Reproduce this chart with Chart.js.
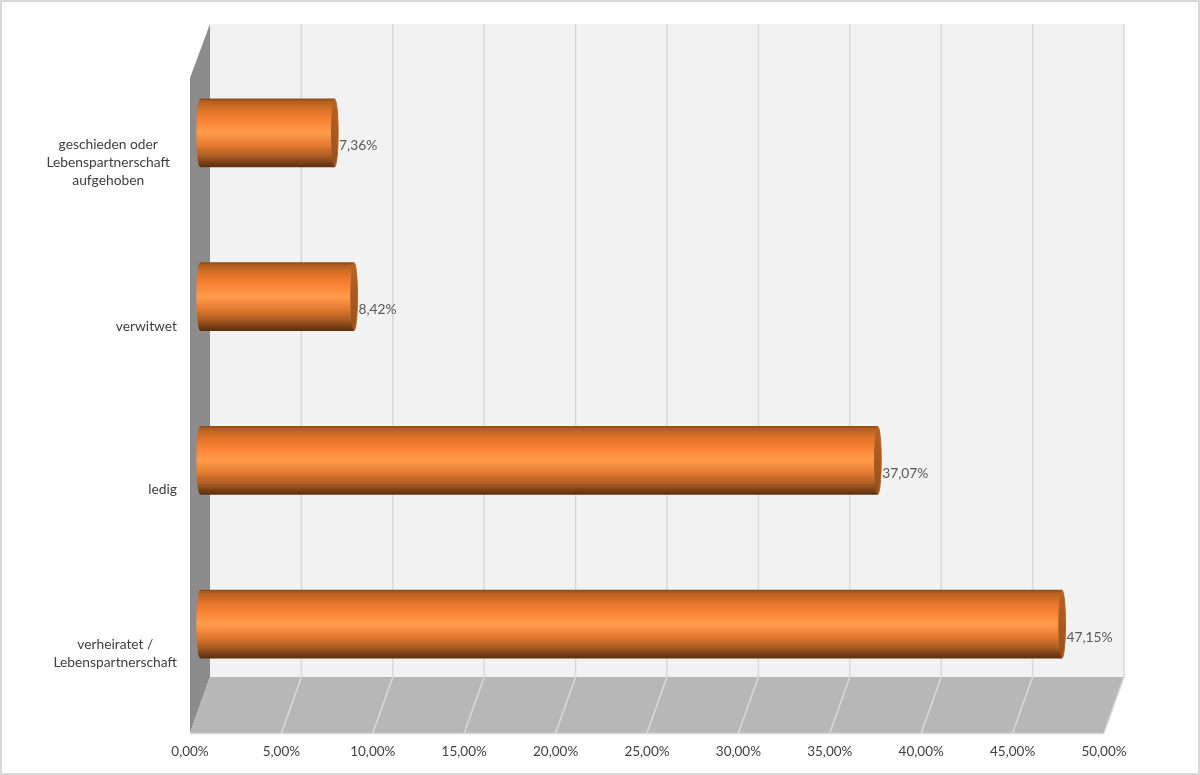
<!DOCTYPE html>
<html><head><meta charset="utf-8">
<style>html,body{margin:0;padding:0;background:#fff}canvas{display:block}</style>
<script src="https://cdn.jsdelivr.net/npm/chart.js@4/dist/chart.umd.min.js"></script>
</head><body>
<canvas id="c" width="1200" height="775"></canvas>
<script>
const categories = [
  ["verheiratet /", "Lebenspartnerschaft"],
  "ledig",
  "verwitwet",
  ["geschieden oder", "Lebenspartnerschaft", "aufgehoben"]
];
const shares = [47.15, 37.07, 8.42, 7.36];
const shareLabels = ["47,15%", "37,07%", "8,42%", "7,36%"];
const axisMin = 0;
const axisMax = 50;
const axisStep = 5;

const FONT = 'Lato, sans-serif';
const depthX = 20, depthTop = -54, depthBottom = -56;
const barDX = 10, barDY = -27;
const capRX = 3.6;
const labelRight = [177, 177, 177, 170];
const labelShiftY = 2.5;

function de(v){ return v.toFixed(2).replace('.', ',') + '%'; }

function bodyGradient(c, top, h){
  const g = c.createLinearGradient(0, top, 0, top + h);
  g.addColorStop(0, '#8f4c17');
  g.addColorStop(0.04, '#b4601f');
  g.addColorStop(0.18, '#e2742a');
  g.addColorStop(0.32, '#f98334');
  g.addColorStop(0.5, '#ff9b4b');
  g.addColorStop(0.68, '#e67a30');
  g.addColorStop(0.84, '#ab5d23');
  g.addColorStop(0.96, '#6e3a14');
  g.addColorStop(1, '#5e3010');
  return g;
}

const scene = {
  id: 'scene',
  beforeDraw(chart){
    const {ctx, scales:{x, y}, chartArea:a} = chart;
    const backTop = a.top + depthTop, backBottom = a.bottom + depthBottom;
    // outer frame
    ctx.save();
    ctx.fillStyle = '#fff'; ctx.fillRect(0,0,chart.width,chart.height);
    ctx.strokeStyle = '#d9d9d9'; ctx.lineWidth = 2;
    ctx.strokeRect(1,1,chart.width-2,chart.height-2);
    // back wall
    ctx.fillStyle = '#f2f2f2';
    ctx.fillRect(a.left+depthX, backTop, a.width, backBottom-backTop);
    // left wall
    ctx.fillStyle = '#8c8c8c';
    ctx.beginPath();
    ctx.moveTo(a.left, a.top); ctx.lineTo(a.left+depthX, backTop);
    ctx.lineTo(a.left+depthX, backBottom); ctx.lineTo(a.left, a.bottom);
    ctx.closePath(); ctx.fill();
    // floor
    ctx.fillStyle = '#b7b7b7';
    ctx.beginPath();
    ctx.moveTo(a.left, a.bottom); ctx.lineTo(a.left+depthX, backBottom);
    ctx.lineTo(a.right+depthX, backBottom); ctx.lineTo(a.right, a.bottom);
    ctx.closePath(); ctx.fill();
    // grid
    ctx.lineWidth = 1.5;
    ctx.strokeStyle = '#d9d9d9';
    x.ticks.forEach((t,i)=>{
      const px = x.getPixelForTick(i);
      if(i>0){
        ctx.beginPath();
        ctx.moveTo(px+depthX, backTop);
        ctx.lineTo(px+depthX, backBottom);
        ctx.lineTo(px, a.bottom);
        ctx.stroke();
      }
    });
    ctx.beginPath();
    ctx.moveTo(a.left, a.bottom+.5); ctx.lineTo(a.right, a.bottom+.5);
    ctx.stroke();
    ctx.restore();

    // y labels: each block right-aligned, lines centred inside the block
    const items = y.getLabelItems(a);
    ctx.save();
    items.forEach((it,i)=>{
      if(it.shifted) return;
      ctx.font = it.font.string;
      const lines = Array.isArray(it.label) ? it.label : [it.label];
      const w = Math.max(...lines.map(l=>ctx.measureText(l).width));
      it.options.textAlign = 'center';
      it.options.translation = [labelRight[i] - w/2, it.options.translation[1] + labelShiftY];
      it.shifted = true;
    });
    ctx.restore();
  },
  beforeDatasetDraw(chart){
    const c = chart.ctx;
    c.save();
    c.translate(barDX, barDY);
    // left rounded end, under the bar body
    chart.getDatasetMeta(0).data.forEach(b=>{
      const h = b.height, top = b.y - h/2;
      c.fillStyle = bodyGradient(c, top, h);
      c.beginPath();
      c.ellipse(b.base, b.y, capRX, h/2, 0, 0, Math.PI*2);
      c.fill();
    });
  },
  afterDatasetDraw(chart){
    const c = chart.ctx;
    chart.getDatasetMeta(0).data.forEach(b=>{
      const h = b.height, top = b.y - h/2;
      // end cap
      const g = c.createLinearGradient(0, top, 0, top+h);
      g.addColorStop(0, '#b8631f');
      g.addColorStop(0.5, '#a85a24');
      g.addColorStop(1, '#96501c');
      c.fillStyle = g;
      c.beginPath();
      c.ellipse(b.x, b.y, capRX, h/2, 0, 0, Math.PI*2);
      c.fill();
      c.strokeStyle = '#bd611c'; c.lineWidth = 1;
      c.beginPath();
      c.ellipse(b.x, b.y, capRX, h/2, 0, -Math.PI/2, Math.PI/2);
      c.stroke();
    });
    c.restore();
    // value labels
    c.save();
    c.font = '13.8px ' + FONT;
    c.fillStyle = '#595959';
    c.textAlign = 'left';
    c.textBaseline = 'middle';
    chart.getDatasetMeta(0).data.forEach((b,i)=>{
      c.fillText(shareLabels[i], b.x + barDX + 4.5, b.y + barDY + 13);
    });
    c.restore();
  }
};

new Chart(document.getElementById('c'), {
  type: 'bar',
  data: {
    labels: categories,
    datasets: [{
      data: shares,
      barThickness: 68,
      borderWidth: 0,
      backgroundColor(ctx){
        const ch = ctx.chart;
        if(!ch.chartArea) return '#f98334';
        const cy = ch.scales.y.getPixelForValue(ctx.dataIndex);
        return bodyGradient(ch.ctx, cy - 34, 68);
      }
    }]
  },
  options: {
    indexAxis: 'y',
    responsive: false,
    animation: false,
    devicePixelRatio: 1,
    layout: { padding: { top: 78, right: 96, left: 0, bottom: 0 } },
    plugins: { legend: {display:false}, tooltip: {enabled:false} },
    scales: {
      x: {
        min: axisMin, max: axisMax,
        border: {display:false},
        grid: {display:false},
        afterFit(s){ s.height = 42; },
        ticks: {
          stepSize: axisStep, maxRotation: 0, autoSkip: false,
          padding: 3, color: '#404040',
          font: {family: FONT, size: 13.5},
          callback: v => de(v)
        }
      },
      y: {
        reverse: true,
        border: {display:false},
        grid: {display:false},
        afterFit(s){ s.width = 190; },
        ticks: {
          crossAlign: 'center', autoSkip: false,
          padding: 13, color: '#404040',
          font: {family: FONT, size: 13.8, lineHeight: 1.3}
        }
      }
    }
  },
  plugins: [scene]
});
</script>
</body></html>
